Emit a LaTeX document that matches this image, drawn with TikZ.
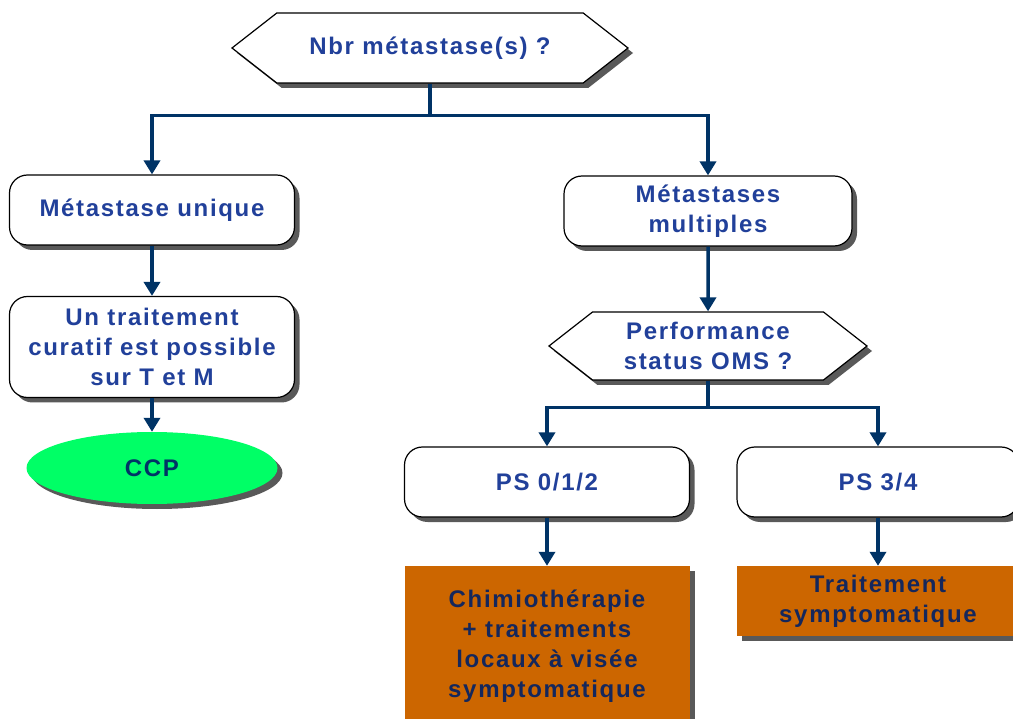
\documentclass[tikz,border=0pt]{standalone}
\usepackage{fontspec}
\setmainfont{Liberation Sans}
\usetikzlibrary{shapes.symbols,shapes.geometric,shadows,arrows.meta}
\definecolor{navy}{HTML}{003366}
\definecolor{textblue}{HTML}{21409A}
\definecolor{orangebox}{HTML}{CC6600}
\definecolor{ccpgreen}{HTML}{00FF66}
\newcommand{\lbl}{\fontsize{24}{30}\selectfont\bfseries\addfontfeature{LetterSpace=7}}
\tikzset{
  shade/.style={drop shadow={shadow xshift=5pt, shadow yshift=-5pt, fill=black!65, opacity=1}},
  box/.style={draw=black, line width=1.2pt, fill=white, rounded corners=18pt, shade,
    minimum width=285pt, minimum height=70pt, align=center, text=textblue, font=\lbl},
  question/.style={signal, signal to=west and east, signal pointer angle=76, draw=black,
    line width=1.2pt, fill=white, shade, align=center, text=textblue, font=\lbl, inner sep=0pt},
  result/.style={fill=orangebox, shade, minimum width=285pt, align=center,
    text=textblue!60!black, font=\lbl},
  link/.style={navy, line width=3.5pt, -{Triangle[length=14pt,width=16pt]}},
}
\begin{document}
\begin{tikzpicture}[x=1pt, y=-1pt]
  \useasboundingbox (0,0) rectangle (1013,719);
  \clip (0,0) rectangle (1013,719);
  % first question
  \node[question, minimum width=396pt, minimum height=70pt] (nbr) at (430,48) {Nbr métastase(s) ?};
  \node[box] (unique) at (152,210) {Métastase unique};
  \node[box, minimum width=288pt] (multi) at (708,211) {Métastases\\multiples};
  \draw[link] (nbr.south) -- ++(0,32) -| (unique.north);
  \draw[link] (nbr.south) -- ++(0,32) -| (multi.north);

  % left branch
  \node[box, minimum height=101pt] (curatif) at (152,347) {Un traitement\\curatif est possible\\sur T et M};
  \node[ellipse, fill=ccpgreen, shade, minimum width=251pt, minimum height=72pt,
    text=navy, font=\lbl] (ccp) at (152,468) {CCP};
  \draw[link] (unique) -- (curatif);
  \draw[link] (curatif) -- (ccp);

  % right branch
  \node[question, minimum width=318pt, minimum height=68pt] (oms) at (708,346) {Performance\\status OMS ?};
  \draw[link] (multi) -- (oms);
  \node[box] (ps1) at (547,482) {PS 0/1/2};
  \node[box, minimum width=282pt] (ps2) at (878,482) {PS 3/4};
  \draw[link] (oms.south) -- ++(0,27) -| (ps1.north);
  \draw[link] (oms.south) -- ++(0,27) -| (ps2.north);

  % treatments
  \node[result, minimum height=160pt] (chimio) at (547,646) {Chimiothérapie\\+ traitements\\locaux à visée\\symptomatique};
  \node[result, minimum width=282pt, minimum height=70pt] (sympto) at (878,601) {Traitement\\symptomatique};
  \draw[link] (ps1) -- (chimio);
  \draw[link] (ps2) -- (sympto);
\end{tikzpicture}
\end{document}
